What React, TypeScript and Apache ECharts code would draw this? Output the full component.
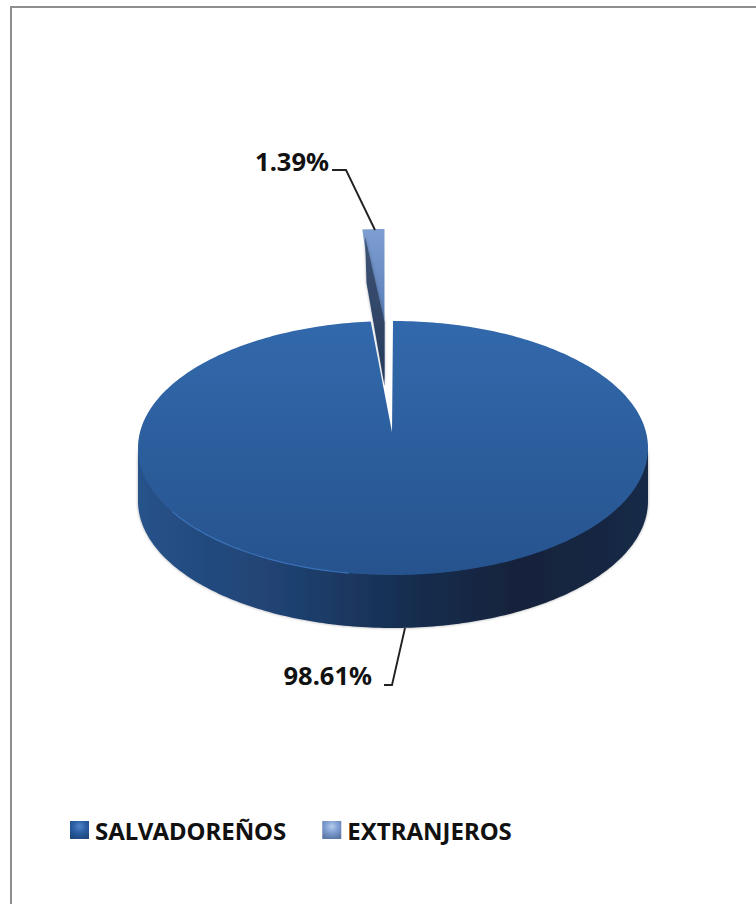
import React, { useEffect, useRef } from "react";
import * as echarts from "echarts";

const categories = ["SALVADOREÑOS", "EXTRANJEROS"];
const shares = [98.61, 1.39];

const FONT = "'Noto Sans', sans-serif";
const cx = 393, cy = 448, rx = 255, ry = 127, depth = 53;
const apexMain: [number, number] = [392, 432];
const apexOut: [number, number] = [384.5, 380];
const outH = 151;
const total = shares.reduce((a, b) => a + b, 0);
const rad = (d: number) => (d * Math.PI) / 180;
const Lin = echarts.graphic.LinearGradient;

function arc(from: number, to: number, dy = 0): number[][] {
  const pts: number[][] = [];
  const n = Math.max(2, Math.ceil(Math.abs(to - from)));
  for (let i = 0; i <= n; i++) {
    const t = rad(from + ((to - from) * i) / n);
    pts.push([cx + rx * Math.sin(t), cy - ry * Math.cos(t) + dy]);
  }
  return pts;
}

function renderMain(_p: any, api: any) {
  const sweep = (api.value(0) / total) * 360;
  const side = [...arc(90, 90), ...arc(100, 260, -3), ...arc(270, 270), ...arc(270, 90, depth)];
  const top = [apexMain, ...arc(0, sweep)];
  const rim = arc(240, 190);
  return {
    type: "group",
    children: [
      {
        type: "polygon",
        shape: { points: side },
        style: {
          fill: new Lin(cx - rx, 0, cx + rx, 0, [
            { offset: 0, color: "#27528A" },
            { offset: 0.3, color: "#1F4170" },
            { offset: 0.52, color: "#172E50" },
            { offset: 0.75, color: "#12233B" },
            { offset: 1, color: "#152A47" },
          ], true),
          shadowColor: "rgba(0,0,0,0.35)",
          shadowBlur: 3,
        },
      },
      {
        type: "polygon",
        shape: { points: top },
        style: {
          fill: new Lin(0, cy - ry, 0, cy + ry, [
            { offset: 0, color: "#3269AC" },
            { offset: 1, color: "#26538E" },
          ], true),
        },
      },
      {
        type: "polyline",
        shape: { points: rim },
        style: { fill: "none", stroke: "#3B72B8", lineWidth: 1.2 },
      },
      {
        type: "polyline",
        shape: { points: [[384, 685], [392, 685], [405, 628]] },
        style: { fill: "none", stroke: "#222222", lineWidth: 1.9 },
      },
      {
        type: "text",
        x: 372,
        y: 675,
        style: {
          text: api.value(0).toFixed(2) + "%",
          font: `bold 25.5px ${FONT}`,
          fill: "#111111",
          align: "right",
          verticalAlign: "middle",
        },
      },
    ],
  };
}

function renderOut(_p: any, api: any) {
  const sweep = (api.value(0) / total) * 360;
  const pts: number[][] = [];
  for (let i = 0; i <= 5; i++) {
    const t = rad((sweep * i) / 5);
    pts.push([apexOut[0] - rx * Math.sin(t), apexOut[1] - outH * Math.cos(t)]);
  }
  const light = [apexOut, ...pts];
  const dark = [[365, 236], [366.5, 283], [384.5, 386], [384.5, 322]];
  return {
    type: "group",
    children: [
      {
        type: "polygon",
        shape: { points: light },
        style: {
          fill: new Lin(0, 229, 0, 340, [
            { offset: 0, color: "#7F9ED2" },
            { offset: 1, color: "#4F78B0" },
          ], true),
        },
      },
      {
        type: "polygon",
        shape: { points: dark },
        style: {
          fill: new Lin(0, 236, 0, 380, [
            { offset: 0, color: "#3F5475" },
            { offset: 1, color: "#263A5C" },
          ], true),
          shadowColor: "rgba(0,0,0,0.3)",
          shadowBlur: 3,
        },
      },
      {
        type: "polyline",
        shape: { points: [[332, 170], [346, 170], [375, 230]] },
        style: { fill: "none", stroke: "#222222", lineWidth: 1.9 },
      },
      {
        type: "text",
        x: 329,
        y: 161,
        style: {
          text: api.value(0).toFixed(2) + "%",
          font: `bold 25.5px ${FONT}`,
          fill: "#111111",
          align: "right",
          verticalAlign: "middle",
        },
      },
    ],
  };
}

export default function App() {
  const ref = useRef<HTMLDivElement>(null);
  useEffect(() => {
    document.body.style.margin = "0";
    const chart = echarts.init(ref.current!, null, { renderer: "svg" });
    chart.setOption({
      animation: false,
      backgroundColor: "#ffffff",
      graphic: [
        { type: "rect", shape: { x: 10, y: 6, width: 746, height: 2 }, style: { fill: "#8E8E8E" } },
        { type: "rect", shape: { x: 10, y: 6, width: 2, height: 898 }, style: { fill: "#8E8E8E" } },
      ],
      legend: {
        left: 65,
        top: 813,
        itemWidth: 19,
        itemHeight: 18,
        itemGap: 36,
        icon: "rect",
        textStyle: { fontFamily: FONT, fontWeight: "bold", fontSize: 24, color: "#111111", padding: [0, 0, 3, 1] },
        data: [
          {
            name: categories[0],
            itemStyle: {
              color: new echarts.graphic.RadialGradient(0.5, 0.3, 0.7, [
                { offset: 0, color: "#4F86C6" },
                { offset: 0.5, color: "#2A5FA4" },
                { offset: 1, color: "#1F4A80" },
              ]),
            },
          },
          {
            name: categories[1],
            itemStyle: {
              color: new echarts.graphic.RadialGradient(0.5, 0.3, 0.7, [
                { offset: 0, color: "#B4CCEC" },
                { offset: 0.5, color: "#7F9ED2" },
                { offset: 1, color: "#5C78A8" },
              ]),
            },
          },
        ],
      },
      series: [
        { type: "custom", name: categories[0], coordinateSystem: "none", z: 3, renderItem: renderMain, data: [[shares[0]]], itemStyle: { color: "#2A5FA4" } },
        { type: "custom", name: categories[1], coordinateSystem: "none", z: 2, renderItem: renderOut, data: [[shares[1]]], itemStyle: { color: "#7F9ED2" } },
      ],
    });
    return () => chart.dispose();
  }, []);
  return <div ref={ref} style={{ width: 756, height: 904 }} />;
}
